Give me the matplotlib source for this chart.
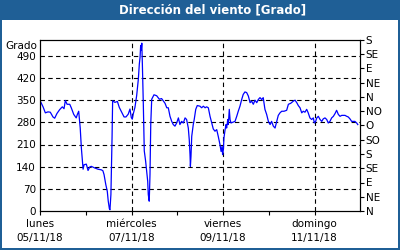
import matplotlib
matplotlib.use("Agg")
import matplotlib.pyplot as plt
from matplotlib.patches import Rectangle

# hours since 05/11/18 00:00
hours = [0.4, 1.6, 2.8, 4.2, 5.4, 6.8, 7.7, 8.9, 10.3, 11.7, 12.6, 13.3, 14.2, 15.6, 16.4, 17.7,
         19.0, 19.6, 20.3, 20.6, 21.1, 21.7, 22.2, 22.6, 23.1, 24.3, 25.2, 26.1, 26.9, 28.7, 30.4,
         32.2, 33.0, 33.6, 34.5, 35.3, 35.8, 36.4, 36.7, 37.2, 37.8, 38.1, 39.3, 40.6, 41.6, 42.9,
         44.1, 45.1, 46.3, 47.2, 47.9, 48.4, 48.9, 49.8, 50.7, 51.6, 52.1, 52.5, 52.8, 53.1, 53.4,
         53.7, 54.2, 54.7, 55.4, 56.5, 56.8, 57.3, 57.7, 58.1, 58.6, 59.8, 61.2, 62.6, 63.8, 65.6,
         66.5, 67.3, 68.2, 69.1, 69.9, 70.8, 71.7, 72.6, 73.4, 74.3, 75.2, 76.1, 76.9, 77.8, 78.3,
         78.7, 78.9, 79.2, 79.6, 80.4, 80.9, 81.7, 82.5, 83.9, 84.8, 85.7, 86.6, 87.4, 88.3, 89.2,
         90.1, 90.9, 91.8, 92.7, 93.5, 94.4, 95.0, 95.5, 95.8, 96.2, 96.5, 97.1, 97.6, 97.9, 98.5,
         98.8, 99.3, 99.7, 100.2, 101.1, 102.3, 103.2, 104.0, 104.9, 105.8, 106.6, 107.5, 108.4,
         109.3, 110.2, 111.0, 111.9, 112.8, 113.7, 114.5, 115.4, 116.3, 117.1, 118.0, 118.9, 119.8,
         120.7, 121.5, 122.4, 123.3, 124.2, 125.0, 125.9, 126.8, 128.0, 129.4, 130.3, 131.5, 132.9,
         133.8, 134.7, 135.5, 136.4, 137.3, 138.1, 139.0, 139.9, 140.7, 141.6, 142.5, 143.4, 143.9,
         144.6, 145.2, 146.0, 146.9, 147.8, 148.6, 149.5, 150.4, 151.2, 152.1, 153.0, 153.9, 154.8,
         155.6, 156.5, 157.4, 158.3, 159.1, 160.0, 160.9, 161.7, 162.6, 163.5, 164.4, 165.2, 166.1,
         166.7]
direction = [344, 329, 310, 313, 312, 297, 293, 308, 320, 329, 323, 349, 337, 337, 326, 305,
             294, 305, 315, 294, 262, 199, 162, 132, 146, 148, 128, 139, 141, 136, 132,
             130, 127, 115, 84, 62, 31, 7, 4, 52, 232, 348, 343, 346, 327, 311,
             297, 297, 306, 322, 295, 290, 306, 327, 364, 417, 464, 486, 523, 507, 530,
             464, 337, 190, 158, 94, 52, 31, 115, 274, 353, 367, 364, 353, 355, 340,
             326, 326, 299, 283, 273, 268, 278, 294, 273, 283, 278, 294, 289, 262, 225,
             178, 141, 172, 236, 273, 289, 321, 333, 331, 326, 331, 326, 329, 326, 299,
             278, 259, 252, 257, 236, 210, 188, 204, 178, 194, 231, 257, 273, 262, 289,
             273, 321, 289, 278, 280, 283, 299, 315, 331, 352, 368, 376, 374,
             363, 342, 347, 337, 350, 342, 352, 358, 352, 358, 321, 305, 283,
             273, 283, 268, 262, 283, 302, 310, 315, 315, 318, 337, 340, 347,
             350, 342, 333, 326, 310, 315, 312, 321, 310, 294, 289, 294, 278,
             283, 294, 299, 289, 283, 291, 294, 289, 278, 283, 294, 299, 308,
             318, 305, 299, 302, 302, 302, 299, 297, 291, 283, 283, 283, 278,
             273]

left_ticks = [0, 70, 140, 210, 280, 350, 420, 490]
right_ticks = [0, 45, 90, 135, 180, 225, 270, 315, 360, 405, 450, 495, 540]
right_labels = ["N", "NE", "E", "SE", "S", "SO", "O", "NO", "N", "NE", "E", "SE", "S"]
x_major = [0, 48, 96, 144]
x_minor = [24, 72, 120]
x_labels = ["lunes\n05/11/18", "miércoles\n07/11/18", "viernes\n09/11/18", "domingo\n11/11/18"]
title = "Dirección del viento [Grado]"
unit = "Grado"

W, H = 400, 250
fig = plt.figure(figsize=(4, 2.5), dpi=100)
fig.patch.set_facecolor("white")
blue = "#1f5f96"
fig.patches.append(Rectangle((0, 1 - 20 / H), 1, 20 / H, transform=fig.transFigure,
                             facecolor=blue, edgecolor="none", zorder=0))
fig.patches.append(Rectangle((0, 0), 2 / W, 1, transform=fig.transFigure,
                             facecolor=blue, edgecolor="none", zorder=0))
fig.patches.append(Rectangle((1 - 2 / W, 0), 2 / W, 1, transform=fig.transFigure,
                             facecolor=blue, edgecolor="none", zorder=0))
fig.patches.append(Rectangle((0, 0), 1, 2 / H, transform=fig.transFigure,
                             facecolor=blue, edgecolor="none", zorder=0))
fig.text(213 / W, 1 - 10 / H, title, color="white", fontsize=8.5, fontweight="bold",
         ha="center", va="center")

ax = fig.add_axes([40 / W, 1 - 211 / H, 320.25 / W, 171 / H])
ax.plot(hours, direction, color="#0000ff", lw=0.9)
ax.set_xlim(0, 168)
ax.set_ylim(0, 540)
ax.set_yticks(left_ticks)
ax.set_yticklabels([str(v) for v in left_ticks], fontsize=7.5)
ax.tick_params(axis="y", length=0, pad=3)
ax.set_xticks(x_major)
ax.set_xticklabels(x_labels, fontsize=7.5, linespacing=1.5)
ax.set_xticks(x_minor, minor=True)
ax.tick_params(axis="x", which="both", length=3, width=0.8, direction="out", pad=3)
for v in left_ticks[1:]:
    ax.axhline(v, color="black", lw=0.8, ls=(0, (4, 3)), zorder=1)
for v in x_major[1:]:
    ax.axvline(v, color="black", lw=0.8, ls=(0, (4, 3)), zorder=1)
for s in ax.spines.values():
    s.set_color("black")
    s.set_linewidth(0.8)

ax2 = ax.twinx()
ax2.set_ylim(0, 540)
ax2.set_yticks(right_ticks)
ax2.set_yticklabels(right_labels, fontsize=7.5)
ax2.tick_params(axis="y", length=3, width=0.8, pad=1)

fig.text(37 / W, 1 - 46 / H, unit, fontsize=7.5, ha="right", va="center")

fig.savefig("out.png", dpi=100)
